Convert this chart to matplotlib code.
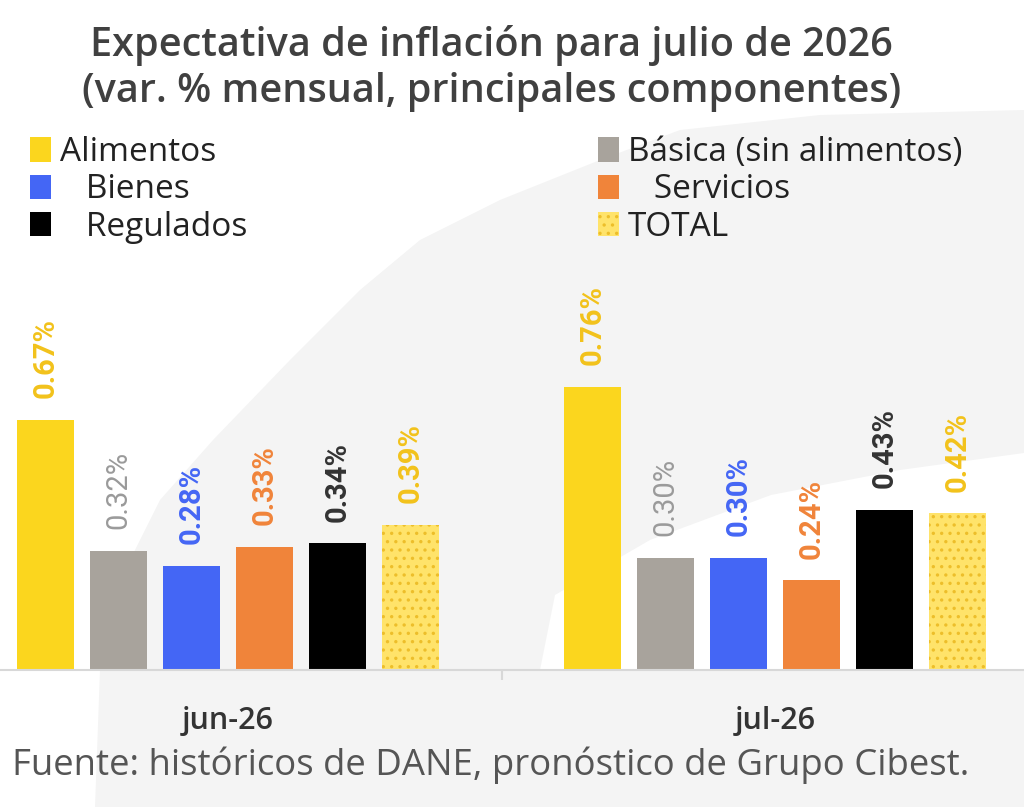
import matplotlib
matplotlib.use('Agg')
import matplotlib.pyplot as plt
from matplotlib.patches import Polygon
import numpy as np

# data
periods = ['jun-26', 'jul-26']
components = ['Alimentos', 'Básica (sin alimentos)', 'Bienes', 'Servicios', 'Regulados', 'TOTAL']
values = {
    'Alimentos': [0.67, 0.76],
    'Básica (sin alimentos)': [0.32, 0.30],
    'Bienes': [0.28, 0.30],
    'Servicios': [0.33, 0.24],
    'Regulados': [0.34, 0.43],
    'TOTAL': [0.39, 0.42],
}
legend_names = ['Alimentos', 'Básica (sin alimentos)', '   Bienes', '   Servicios', '   Regulados', 'TOTAL']

bar_colors = ['#FBD61E', '#A8A39C', '#4466F5', '#F0843A', '#000000', '#FFE36A']
label_colors = ['#F2C21B', '#9A9A9A', '#4466F5', '#F0843A', '#333333', '#F2C21B']
label_weights = ['bold', 'normal', 'bold', 'bold', 'bold', 'bold']

plt.rcParams['font.family'] = ['Open Sans', 'DejaVu Sans']
plt.rcParams['hatch.linewidth'] = 1.2

W, H = 1024, 807
fig = plt.figure(figsize=(W / 100, H / 100), dpi=100)
fig.patch.set_facecolor('white')

# light background swoosh (pixel coords, y from top)
def px(points):
    return [(x / W, 1 - y / H) for x, y in points]

grey = Polygon(px([(1024, 110), (820, 115), (680, 130), (600, 160), (500, 200), (420, 240),
                   (360, 290), (290, 360), (213, 440), (160, 500), (120, 580), (100, 670),
                   (95, 807), (1024, 807)]),
               closed=True, transform=fig.transFigure, facecolor='#F4F4F4', edgecolor='none', zorder=0)
fig.add_artist(grey)
white = Polygon(px([(540, 670), (555, 595), (650, 540), (771, 495), (900, 470), (1024, 453),
                    (1024, 670)]),
                closed=True, transform=fig.transFigure, facecolor='white', edgecolor='none', zorder=0)
fig.add_artist(white)

base_px = 670
ax = fig.add_axes([0, (H - base_px) / H, 1, 373 / H])
ax.set_facecolor('none')
ax.set_xlim(-0.417, 1.455)
ax.set_ylim(0, 1.0)

x = np.arange(len(periods))
step = 0.1335
width = 0.104
bars = []
for i, comp in enumerate(components):
    pos = x + (i - 2.5) * step
    vals = values[comp]
    if comp == 'TOTAL':
        b = ax.bar(pos, vals, width, color=bar_colors[i], edgecolor='#EDBE2A',
                   hatch='..', linewidth=0, label=comp, zorder=2)
    else:
        b = ax.bar(pos, vals, width, color=bar_colors[i], linewidth=0, label=comp, zorder=2)
    bars.append(b)
    for xp, v in zip(pos, vals):
        ax.text(xp, v + 0.058, f'{v:.2f}%', rotation=90, ha='center', va='bottom',
                fontsize=21, color=label_colors[i], fontweight=label_weights[i],
                family=['Roboto', 'DejaVu Sans'])

for s in ['top', 'right', 'left']:
    ax.spines[s].set_visible(False)
ax.spines['bottom'].set_color('#D8D8D8')
ax.spines['bottom'].set_linewidth(1.5)
ax.set_yticks([])
ax.set_xticks(x)
ax.set_xticklabels(periods, fontsize=22, fontweight='semibold', color='#333333')
ax.tick_params(axis='x', length=0, pad=26)
ax.set_xticks([0.5], minor=True)
ax.tick_params(axis='x', which='minor', length=7, color='#D8D8D8', width=1.5)

fig.text(0.48, 1 - 46 / H, 'Expectativa de inflación para julio de 2026', ha='center', va='center',
         fontsize=28.5, fontweight='semibold', color='#404040')
fig.text(0.48, 1 - 92 / H, '(var. % mensual, principales componentes)', ha='center', va='center',
         fontsize=28.5, fontweight='semibold', color='#404040')

order_left = [0, 2, 4]
order_right = [1, 3, 5]
for order, xleft in [(order_left, 30), (order_right, 598)]:
    leg = fig.legend([bars[k] for k in order], [legend_names[k] for k in order],
                     loc='upper left', bbox_to_anchor=(xleft / W, 1 - 136 / H),
                     frameon=False, fontsize=24, handlelength=0.62, handleheight=0.75,
                     handletextpad=0.28, labelspacing=0.13, borderaxespad=0, borderpad=0)
    for t in leg.get_texts():
        t.set_color('#222222')

fig.text(12 / W, 1 - 765 / H, 'Fuente: históricos de DANE, pronóstico de Grupo Cibest.',
         ha='left', va='center', fontsize=26.3, color='#555555')

fig.savefig('out.png', dpi=100, facecolor=fig.get_facecolor())
